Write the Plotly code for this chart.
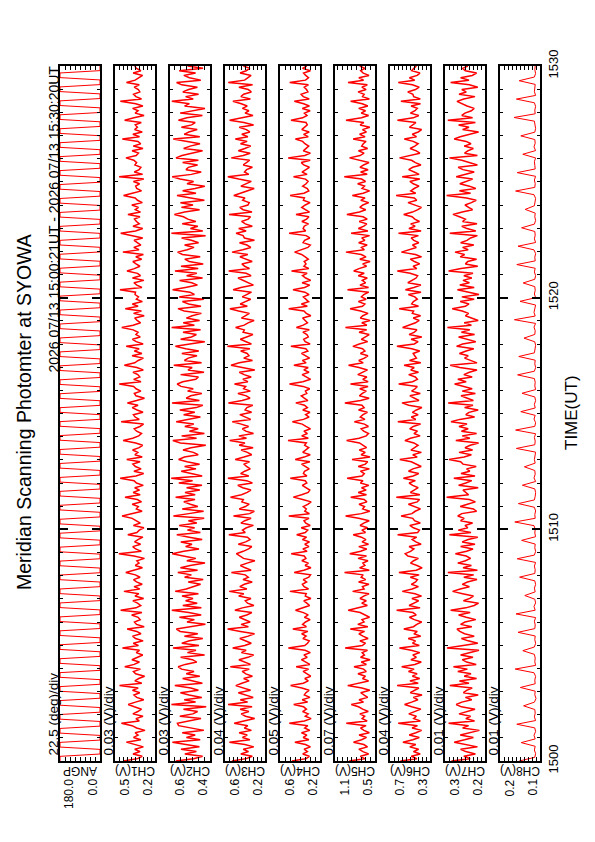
import numpy as np
import plotly.graph_objects as go

# ---------------- data ----------------
# time axis in HHMM-style minutes (15:00 UT .. 15:30 UT)
t_start = 1500.0
t_end = 1530.0

panel_names = ["ANGP", "CH1(V)", "CH2(V)", "CH3(V)", "CH4(V)", "CH5(V)", "CH6(V)", "CH7(V)", "CH8(V)"]
range_max = [180.0, 0.5, 0.6, 0.6, 0.6, 1.1, 0.7, 0.3, 0.2]
range_min = [0.0, 0.2, 0.4, 0.2, 0.2, 0.5, 0.3, 0.2, 0.1]
per_div = [22.5, 0.03, 0.03, 0.04, 0.05, 0.07, 0.04, 0.01, 0.01]
per_div_labels = ["22.5 (deg)/div", "0.03 (V)/div", "0.03 (V)/div", "0.04 (V)/div", "0.05 (V)/div",
                  "0.07 (V)/div", "0.04 (V)/div", "0.01 (V)/div", "0.01 (V)/div"]
max_labels = ["180.0", "0.5", "0.6", "0.6", "0.6", "1.1", "0.7", "0.3", "0.2"]
min_labels = ["0.0", "0.2", "0.4", "0.2", "0.2", "0.5", "0.3", "0.2", "0.1"]
time_ticks = [1500, 1510, 1520, 1530]

# scan angle (deg): holds at each end, quick sweeps across
angp_deg = [
    180, 180, 180, 0, 0, 0, 180, 180, 180, 0, 0, 0,
    180, 180, 180, 0, 0, 0, 180, 180, 180, 0, 0, 0,
    180, 180, 180, 0, 0, 0, 180, 180, 180, 0, 0, 0,
    180, 180, 180, 0, 0, 0, 180, 180, 180, 0, 0, 0,
    180, 180, 180, 0, 0, 0, 180, 180, 180, 0, 0, 0,
    180, 180, 180, 0, 0, 0, 180, 180, 180, 0, 0, 0,
    180, 180, 180, 0, 0, 0, 180, 180, 180, 0, 0, 0,
    180, 180, 180, 0, 0, 0, 180, 180, 180, 0, 0, 0,
    180, 180, 180, 0, 0, 0, 180, 180, 180, 0, 0, 0,
    180, 180, 180, 0, 0, 0, 180, 180, 180, 0, 0, 0,
    180, 180, 180, 0, 0, 0, 180, 180, 180, 0, 0, 0,
    180, 180, 180, 0, 0, 0, 180, 180, 180, 0, 0, 0,
    180, 180, 180, 0, 0, 0, 180, 180, 180, 0, 0, 0,
    180, 180, 180, 0, 0, 0, 180, 180, 180, 0, 0, 0,
    180, 180, 180, 0, 0, 0, 180, 180, 180, 0, 0, 0,
    180, 180, 180, 0, 0, 0, 180, 180, 180, 0, 0, 0,
    180, 180, 180, 0, 0, 0, 180, 180, 180, 0, 0, 0,
    180, 180, 180, 0, 0, 0, 180, 180, 180, 0, 0, 0,
    180, 180, 180, 0, 0, 0, 180, 180, 180, 0, 0, 0,
    180, 180, 180, 0, 0, 0, 180, 180, 180, 0, 0, 0,
    180, 180, 180, 0, 0, 0, 180, 180, 180, 0, 0, 0,
    180, 180, 180, 0, 0, 0, 180, 180, 180, 0, 0, 0,
    180, 180, 180, 0, 0, 0, 180, 180, 180, 0, 0, 0,
    180, 180, 180, 0, 0, 0, 180, 180, 180, 0, 0, 0,
    180, 180, 180, 0, 0, 0, 180, 180, 180, 0, 0, 0,
]

ch1_mv = [
    438, 331, 296, 365, 312, 352, 287, 344, 415, 306, 361, 327, 349, 275, 338, 372,
    452, 318, 343, 290, 366, 329, 301, 355, 401, 347, 284, 337, 358, 314, 369, 326,
    466, 299, 351, 322, 278, 345, 362, 309, 427, 356, 317, 373, 334, 292, 341, 316,
    444, 324, 363, 289, 346, 368, 305, 337, 409, 281, 339, 354, 311, 327, 375, 298,
    458, 342, 307, 331, 366, 285, 350, 321, 433, 315, 357, 296, 339, 361, 312, 347,
    419, 363, 294, 348, 320, 336, 279, 358, 471, 302, 345, 367, 308, 353, 328, 291,
    404, 336, 318, 283, 362, 310, 346, 371, 447, 359, 297, 340, 325, 371, 301, 333,
    425, 311, 364, 316, 352, 288, 339, 357, 461, 343, 285, 358, 304, 347, 366, 312,
    412, 296, 351, 329, 368, 319, 293, 345, 439, 367, 322, 301, 338, 356, 313, 286,
    454, 318, 349, 362, 290, 334, 371, 327, 407, 338, 279, 343, 355, 306, 342, 360,
    468, 305, 360, 314, 329, 365, 288, 336, 430, 352, 326, 287, 372, 298, 355, 319,
    416, 289, 341, 369, 311, 343, 327, 364, 449, 364, 308, 334, 352, 281, 361, 302,
    423, 327, 370, 295, 340, 324, 350, 346, 463, 298, 336, 358, 283, 369, 309, 331,
    410, 355, 313, 342, 366, 300, 344, 287, 441, 320, 359, 306, 332, 357, 292, 368,
    457, 346, 292, 365, 318, 339, 354, 313, 403, 309, 348, 324, 374, 295, 331, 349,
    436, 370, 301, 337, 345, 316, 362, 284, 469, 293, 355, 319, 306, 351, 338, 359,
    418, 341, 324, 372, 290, 363, 307, 328, 445, 316, 366, 296, 353, 332, 348, 303,
    428, 358, 282, 349, 327, 368, 291, 344, 460, 301, 343, 361, 314, 325, 356, 318,
    414, 349, 317, 293, 364, 306, 339, 352,
]

ch2_mv = [
    571, 482, 437, 526, 468, 545, 453, 511, 588, 449, 518, 474, 539, 431, 502, 557,
    563, 507, 445, 551, 486, 462, 533, 419, 593, 472, 529, 441, 505, 548, 458, 496,
    576, 438, 492, 537, 451, 519, 480, 542, 559, 524, 466, 488, 547, 427, 513, 470,
    585, 455, 541, 503, 436, 528, 461, 549, 568, 497, 423, 515, 478, 553, 444, 506,
    591, 443, 536, 464, 522, 485, 540, 458, 574, 519, 476, 447, 509, 434, 527, 493,
    561, 462, 548, 499, 425, 516, 471, 538, 589, 531, 455, 522, 490, 546, 439, 504,
    566, 448, 513, 477, 554, 466, 508, 429, 583, 506, 432, 539, 461, 498, 531, 475,
    572, 474, 525, 451, 517, 440, 556, 487, 594, 439, 497, 544, 470, 527, 452, 515,
    557, 528, 459, 483, 535, 495, 421, 548, 586, 467, 542, 428, 503, 459, 526, 481,
    569, 511, 448, 532, 476, 551, 469, 436, 590, 453, 519, 496, 441, 512, 484, 545,
    564, 536, 471, 458, 547, 430, 510, 489, 581, 442, 528, 509, 465, 541, 456, 521,
    573, 501, 426, 547, 493, 468, 535, 447, 592, 478, 534, 452, 518, 489, 443, 529,
    560, 445, 507, 538, 431, 554, 478, 500, 587, 523, 463, 491, 552, 437, 517, 466,
    575, 459, 545, 434, 504, 526, 449, 538, 562, 514, 480, 527, 457, 493, 542, 422,
    593, 436, 498, 461, 539, 471, 511, 533, 578, 527, 452, 543, 485, 548, 428, 496,
    565, 470, 537, 475, 426, 515, 482, 550, 589, 493, 444, 520, 508, 462, 537, 458,
    570, 540, 485, 437, 532, 499, 450, 519, 584, 451, 529, 506, 464, 543, 492, 474,
    558, 516, 438, 549, 480, 425, 527, 503, 591, 484, 522, 457, 536, 507, 463, 541,
    567, 446, 503, 531, 472, 554, 435, 512,
]

ch3_mv = [
    531, 388, 327, 442, 365, 418, 312, 401, 556, 351, 425, 378, 459, 336, 407, 372,
    508, 416, 303, 395, 438, 361, 449, 329, 569, 374, 447, 318, 402, 467, 344, 421,
    492, 432, 359, 413, 326, 391, 428, 357, 547, 345, 406, 461, 371, 314, 436, 389,
    523, 403, 337, 389, 452, 368, 305, 446, 574, 366, 439, 348, 411, 457, 383, 331,
    501, 427, 311, 374, 397, 340, 463, 412, 558, 381, 452, 407, 328, 420, 367, 398,
    536, 339, 398, 446, 379, 301, 415, 453, 487, 418, 364, 332, 467, 393, 349, 376,
    562, 397, 425, 386, 316, 441, 402, 339, 515, 353, 307, 458, 396, 358, 431, 417,
    545, 435, 378, 341, 423, 472, 326, 384, 571, 362, 444, 403, 347, 385, 409, 355,
    498, 411, 333, 376, 439, 319, 458, 401, 553, 385, 461, 315, 392, 426, 364, 437,
    527, 343, 408, 452, 334, 399, 381, 322, 566, 429, 350, 387, 471, 346, 414, 393,
    505, 371, 421, 338, 409, 457, 302, 426, 540, 458, 325, 413, 360, 378, 443, 351,
    576, 336, 392, 447, 384, 321, 419, 407, 494, 408, 369, 309, 436, 398, 356, 464,
    551, 377, 448, 396, 343, 428, 382, 335, 519, 441, 316, 365, 412, 470, 339, 388,
    563, 355, 403, 431, 328, 389, 451, 372, 530, 422, 342, 381, 455, 306, 406, 419,
    489, 389, 463, 327, 397, 434, 368, 345, 559, 330, 419, 452, 371, 358, 423, 401,
    512, 446, 373, 308, 441, 395, 337, 462, 572, 362, 405, 384, 326, 417, 390, 353,
    538, 418, 348, 467, 402, 343, 445, 379, 497, 371, 432, 352, 386, 458, 314, 411,
    554, 453, 320, 399, 361, 426, 378, 437, 521, 346, 441, 413, 337, 367, 461, 324,
    567, 404, 365, 339, 449, 388, 352, 416,
]

ch4_mv = [
    482, 338, 307, 372, 326, 359, 296, 345, 451, 311, 368, 331, 385, 302, 353, 322,
    507, 356, 289, 347, 318, 374, 336, 364, 463, 324, 378, 301, 357, 341, 309, 381,
    494, 367, 317, 352, 293, 333, 369, 314, 439, 302, 346, 386, 328, 361, 297, 349,
    516, 353, 325, 308, 371, 339, 383, 321, 472, 336, 374, 345, 299, 356, 318, 366,
    445, 379, 304, 332, 362, 291, 347, 338, 501, 315, 359, 376, 334, 368, 312, 295,
    458, 362, 291, 349, 316, 381, 341, 357, 488, 329, 371, 311, 352, 305, 376, 334,
    433, 347, 323, 388, 298, 342, 360, 310, 512, 306, 352, 337, 367, 319, 289, 373,
    467, 384, 318, 302, 345, 377, 332, 348, 497, 331, 366, 355, 308, 350, 384, 301,
    448, 359, 298, 373, 339, 313, 354, 337, 520, 317, 383, 326, 361, 295, 341, 378,
    476, 365, 309, 344, 301, 372, 326, 355, 442, 321, 357, 387, 332, 346, 303, 369,
    505, 372, 294, 335, 379, 310, 362, 318, 461, 339, 376, 304, 348, 385, 322, 342,
    491, 299, 348, 363, 317, 331, 371, 307, 436, 368, 325, 352, 374, 292, 337, 361,
    513, 327, 386, 314, 341, 366, 309, 351, 470, 354, 303, 379, 293, 343, 375, 329,
    485, 312, 361, 340, 358, 317, 348, 384, 454, 376, 321, 297, 369, 354, 302, 338,
    509, 343, 369, 358, 315, 381, 334, 311, 440, 305, 338, 382, 347, 300, 366, 356,
    499, 361, 312, 327, 373, 339, 319, 345, 465, 329, 380, 346, 306, 362, 387, 298,
    518, 352, 296, 367, 338, 313, 351, 374, 446, 318, 364, 308, 382, 349, 327, 340,
    490, 374, 330, 356, 299, 377, 306, 363, 457, 308, 367, 389, 321, 335, 358, 316,
    503, 345, 315, 343, 364, 296, 375, 332,
]

ch5_mv = [
    887, 654, 719, 596, 681, 742, 612, 668, 823, 701, 627, 739, 585, 665, 716, 634,
    931, 618, 693, 655, 728, 601, 684, 747, 856, 672, 739, 609, 662, 714, 578, 697,
    909, 737, 596, 688, 643, 756, 631, 671, 815, 629, 706, 574, 717, 659, 692, 613,
    948, 690, 643, 727, 603, 681, 741, 656, 871, 607, 758, 664, 695, 582, 647, 722,
    902, 748, 615, 699, 631, 725, 669, 590, 836, 663, 688, 591, 746, 640, 708, 677,
    957, 586, 731, 652, 682, 605, 754, 628, 879, 715, 624, 743, 597, 694, 636, 703,
    827, 642, 697, 611, 724, 669, 587, 746, 941, 704, 579, 685, 657, 739, 621, 664,
    864, 628, 752, 633, 701, 592, 718, 680, 918, 694, 661, 718, 584, 752, 645, 609,
    845, 575, 709, 646, 735, 626, 686, 733, 926, 738, 632, 597, 669, 708, 599, 658,
    809, 651, 721, 680, 614, 746, 663, 695, 952, 716, 588, 734, 690, 631, 729, 604,
    868, 603, 684, 622, 758, 674, 613, 741, 897, 677, 743, 659, 606, 719, 651, 687,
    832, 735, 610, 706, 648, 587, 739, 625, 944, 622, 698, 575, 721, 683, 604, 716,
    874, 689, 652, 749, 633, 704, 668, 594, 913, 596, 726, 641, 691, 616, 751, 662,
    819, 741, 627, 685, 574, 728, 635, 706, 936, 660, 703, 618, 745, 652, 699, 581,
    859, 606, 750, 667, 623, 737, 617, 678, 922, 733, 639, 728, 682, 594, 713, 649,
    840, 678, 581, 694, 657, 760, 642, 701, 961, 617, 715, 603, 726, 671, 590, 732,
    882, 724, 664, 748, 611, 699, 676, 634, 828, 649, 731, 629, 688, 578, 723, 668,
    935, 702, 596, 707, 642, 744, 608, 691, 866, 584, 687, 662, 754, 633, 697, 615,
    905, 671, 742, 590, 676, 715, 650, 729,
]

ch6_mv = [
    596, 431, 487, 398, 466, 414, 502, 442, 571, 472, 407, 508, 441, 384, 479, 425,
    618, 396, 463, 436, 512, 455, 391, 483, 554, 484, 421, 467, 380, 497, 446, 411,
    629, 418, 501, 403, 476, 429, 515, 459, 583, 452, 387, 491, 436, 472, 402, 488,
    606, 407, 474, 445, 518, 393, 461, 427, 562, 465, 432, 383, 457, 506, 438, 470,
    634, 399, 509, 458, 414, 481, 385, 449, 577, 478, 416, 487, 444, 426, 497, 408,
    611, 437, 379, 430, 495, 463, 416, 521, 548, 494, 461, 509, 389, 441, 478, 433,
    624, 423, 406, 466, 502, 397, 455, 472, 589, 481, 448, 395, 459, 516, 428, 404,
    637, 401, 496, 452, 418, 473, 509, 446, 566, 469, 413, 515, 471, 388, 435, 487,
    602, 428, 472, 386, 491, 458, 420, 461, 551, 496, 399, 461, 425, 503, 467, 394,
    622, 442, 487, 419, 476, 436, 381, 513, 580, 410, 452, 501, 397, 484, 449, 427,
    613, 474, 426, 447, 513, 415, 492, 458, 559, 392, 505, 436, 453, 468, 403, 482,
    631, 457, 419, 489, 382, 509, 456, 431, 574, 503, 445, 408, 468, 394, 477, 464,
    608, 415, 483, 466, 427, 452, 516, 390, 546, 462, 391, 522, 481, 439, 424, 498,
    627, 432, 469, 403, 456, 497, 385, 446, 586, 498, 437, 475, 412, 461, 488, 416,
    615, 389, 511, 449, 493, 405, 452, 479, 563, 476, 421, 386, 444, 520, 433, 457,
    639, 443, 492, 458, 410, 467, 501, 402, 578, 409, 458, 513, 473, 391, 446, 485,
    605, 486, 401, 437, 499, 452, 419, 468, 557, 435, 477, 418, 384, 506, 472, 441,
    626, 468, 412, 496, 450, 427, 489, 395, 591, 397, 463, 471, 523, 445, 408, 476,
    617, 453, 506, 428, 401, 483, 461, 437,
]

ch7_mv = [
    284, 237, 253, 224, 248, 261, 219, 245, 277, 251, 229, 262, 238, 214, 256, 241,
    291, 226, 248, 236, 265, 243, 225, 259, 272, 258, 233, 249, 217, 254, 246, 232,
    288, 240, 264, 221, 252, 235, 268, 244, 279, 222, 246, 257, 230, 261, 238, 215,
    295, 255, 218, 242, 259, 227, 251, 263, 270, 233, 261, 250, 223, 247, 266, 237,
    286, 248, 227, 216, 254, 238, 229, 256, 281, 262, 239, 257, 244, 220, 253, 228,
    293, 219, 255, 234, 268, 249, 236, 247, 274, 246, 230, 261, 225, 257, 242, 218,
    289, 235, 267, 243, 250, 231, 261, 252, 268, 258, 221, 229, 262, 244, 224, 239,
    296, 241, 249, 255, 217, 266, 248, 233, 278, 225, 260, 238, 246, 222, 255, 261,
    290, 252, 234, 265, 231, 250, 237, 216, 273, 238, 257, 221, 259, 242, 265, 245,
    285, 263, 226, 248, 240, 217, 251, 230, 292, 229, 244, 260, 224, 257, 232, 254,
    276, 247, 268, 232, 253, 239, 220, 263, 287, 220, 236, 251, 242, 264, 247, 228,
    271, 256, 223, 244, 266, 226, 259, 238, 294, 234, 252, 217, 235, 249, 241, 257,
    282, 249, 240, 262, 227, 258, 215, 244, 269, 227, 263, 239, 255, 233, 253, 230,
    291, 260, 218, 249, 243, 221, 262, 251, 275, 242, 256, 228, 261, 245, 236, 219,
    288, 223, 245, 258, 220, 256, 249, 264, 280, 257, 231, 241, 250, 234, 222, 246,
    296, 236, 264, 223, 239, 263, 248, 231, 272, 248, 227, 255, 267, 219, 241, 258,
    289, 219, 251, 243, 229, 252, 235, 247, 277, 262, 238, 216, 256, 240, 266, 224,
    293, 231, 258, 250, 234, 227, 245, 260, 270, 253, 225, 265, 247, 258, 218, 239,
    286, 240, 261, 232, 221, 249, 256, 243,
]

ch8_mv = [
    152, 113, 111, 114, 112, 147, 112, 115, 111, 113,
    158, 111, 114, 112, 113, 141, 114, 110, 113, 112,
    149, 112, 113, 111, 115, 162, 111, 113, 112, 114,
    143, 114, 111, 113, 112, 155, 113, 112, 114, 111,
    160, 112, 115, 111, 113, 138, 112, 114, 111, 113,
    151, 113, 112, 114, 111, 157, 114, 111, 113, 112,
    146, 111, 113, 112, 115, 163, 112, 113, 111, 114,
    154, 114, 112, 111, 113, 144, 111, 115, 112, 113,
    139, 112, 114, 113, 111, 159, 113, 112, 114, 111,
    161, 113, 111, 115, 112, 148, 112, 114, 111, 113,
    145, 111, 113, 112, 114, 156, 114, 111, 113, 112,
    153, 114, 112, 111, 113, 140, 113, 112, 115, 111,
    164, 112, 115, 113, 111, 150, 111, 114, 112, 113,
    142, 113, 111, 114, 112, 158, 112, 113, 111, 115,
    155, 111, 114, 112, 113, 146, 114, 111, 113, 112,
    137, 114, 112, 111, 115, 161, 113, 112, 114, 111,
    157, 112, 113, 114, 111, 143, 111, 115, 112, 113,
    148, 113, 111, 112, 114, 165, 112, 113, 111, 114,
    159, 111, 114, 113, 112, 152, 114, 111, 113, 112,
]

# ---------------- figure ----------------
W, H = 595, 842
OFF = 8  # page body margin in the browser
FONT = "Liberation Sans, Arial, Helvetica, sans-serif"
TOP_PX, BOT_PX = 66, 761
PANEL_L0, PANEL_W, PANEL_STEP = 60, 40, 55
line_widths = [1.0, 1.5, 1.5, 1.5, 1.5, 1.5, 1.5, 1.5, 1.0]


def px_x(p):
    return (p - OFF) / W


def px_y(p):
    return 1 - (p - OFF) / H


series = [np.array(angp_deg, float)] + [np.array(s, float) / 1000.0 for s in
                                          (ch1_mv, ch2_mv, ch3_mv, ch4_mv, ch5_mv, ch6_mv, ch7_mv, ch8_mv)]

fig = go.Figure()
annotations = []
layout_axes = {}
n = len(series)
for i, vals in enumerate(series):
    times = np.linspace(t_start, t_end, len(vals))
    sfx = "" if i == 0 else str(i + 1)
    fig.add_trace(go.Scatter(
        x=vals, y=times, mode="lines",
        line=dict(color="#ff0000", width=line_widths[i]),
        xaxis="x" + sfx, yaxis="y" + sfx, showlegend=False, hoverinfo="skip"))

    left = PANEL_L0 + PANEL_STEP * i
    right = left + PANEL_W
    layout_axes["xaxis" + sfx] = dict(
        domain=[px_x(left), px_x(right)],
        range=[range_max[i], range_min[i]],
        anchor="y" + sfx, automargin=False,
        showline=True, linecolor="black", linewidth=2, mirror="ticks",
        ticks="inside", ticklen=4, tickwidth=1, tickcolor="black",
        tick0=range_min[i], dtick=per_div[i],
        showticklabels=False, showgrid=False, zeroline=False, fixedrange=True)
    last = i == n - 1
    layout_axes["yaxis" + sfx] = dict(
        domain=[px_y(BOT_PX), px_y(TOP_PX)],
        range=[time_ticks[0], time_ticks[-1]],
        anchor="x" + sfx, automargin=False,
        showline=True, linecolor="black", linewidth=2, mirror="ticks",
        ticks="inside", ticklen=8, tickwidth=2, tickcolor="black",
        tickmode="array", tickvals=time_ticks, ticktext=[str(v) for v in time_ticks],
        minor=dict(ticks="inside", ticklen=3, tickwidth=1, tickcolor="black", dtick=1, tick0=1500),
        showticklabels=last, side="right" if last else "left",
        tickangle=-90, tickfont=dict(family=FONT, size=13, color="black"),
        showgrid=False, zeroline=False, fixedrange=True)

    annotations.append(dict(
        text=per_div_labels[i], x=px_x(left - 7), y=px_y(758), xref="paper", yref="paper",
        textangle=-90, xanchor="center", yanchor="bottom", showarrow=False,
        font=dict(family=FONT, size=13.5, color="black")))
    annotations.append(dict(
        text=panel_names[i], x=px_x((left + right) / 2), y=px_y(771), xref="paper", yref="paper",
        textangle=180, xanchor="center", yanchor="middle", showarrow=False,
        font=dict(family=FONT, size=12, color="black")))
    annotations.append(dict(
        text=max_labels[i], x=px_x(left), y=px_y(777), xref="paper", yref="paper",
        textangle=-90, xanchor="left", yanchor="top", showarrow=False,
        font=dict(family=FONT, size=12, color="black")))
    annotations.append(dict(
        text=min_labels[i], x=px_x(right + 1), y=px_y(777), xref="paper", yref="paper",
        textangle=-90, xanchor="right", yanchor="top", showarrow=False,
        font=dict(family=FONT, size=12, color="black")))

annotations.append(dict(
    text="Meridian Scanning Photomter at SYOWA", x=px_x(24), y=px_y(412), xref="paper", yref="paper",
    textangle=-90, xanchor="center", yanchor="middle", showarrow=False,
    font=dict(family=FONT, size=19.5, color="black")))
annotations.append(dict(
    text="2026 07/13 15:00:21UT - 2026 07/13 15:30:20UT", x=px_x(53), y=px_y(64),
    xref="paper", yref="paper", textangle=-90, xanchor="center", yanchor="top", showarrow=False,
    font=dict(family=FONT, size=14, color="black")))
annotations.append(dict(
    text="TIME(UT)", x=px_x(572), y=px_y(413), xref="paper", yref="paper",
    textangle=-90, xanchor="center", yanchor="middle", showarrow=False,
    font=dict(family=FONT, size=17, color="black")))

fig.update_layout(
    width=W, height=H, autosize=False,
    margin=dict(l=0, r=0, t=0, b=0, autoexpand=False),
    paper_bgcolor="white", plot_bgcolor="white",
    annotations=annotations,
    **layout_axes)

fig.write_html("out.html", config={"displayModeBar": False})
